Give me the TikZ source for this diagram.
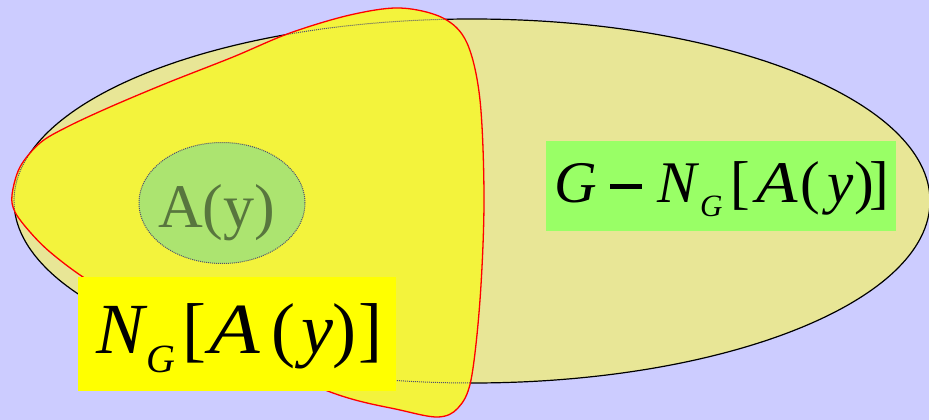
\documentclass[tikz,border=0pt]{standalone}
\usepackage{fontspec}
\usepackage{graphicx}
\setmainfont{Liberation Serif}
\usetikzlibrary{shapes.geometric}
\definecolor{bg}{RGB}{204,204,255}
\definecolor{ellfill}{RGB}{232,230,150}
\definecolor{blobfill}{RGB}{243,243,60}
\definecolor{afill}{RGB}{172,228,112}
\definecolor{atext}{RGB}{88,118,62}
\definecolor{aline}{RGB}{80,80,110}
\definecolor{gbox}{RGB}{153,255,102}
\definecolor{ybox}{RGB}{255,255,0}
\tikzset{
  bigset/.style={ellipse, draw=black, line width=1.2pt, fill=ellfill, inner sep=0pt},
  smallset/.style={ellipse, draw=aline, densely dotted, line width=1pt, fill=afill, inner sep=0pt},
  labelbox/.style={rectangle, inner sep=0pt, draw=none},
  mathtext/.style={anchor=base west, inner sep=0pt, text=black},
}
\newcommand{\gl}[2]{\makebox[#1pt][l]{#2}}
\newcommand{\wideA}{\scalebox{1.15}[1]{\textit{A}}}
\def\blobpath{plot[smooth cycle, tension=0.55] coordinates {
 (400,8) (443,18) (467,43) (480,100) (484,200) (480,300) (471,380) (458,408) (438,417)
 (400,410) (333,393) (220,345) (130,305) (83,277) (50,252) (30,232) (15,212) (12,195)
 (20,167) (40,143) (67,127) (110,107) (167,83) (233,57) (290,33) (350,15)}}
\begin{document}
\begin{tikzpicture}[x=1pt,y=-1pt]
\fill[bg] (0,0) rectangle (929,420);
\useasboundingbox (0,0) rectangle (929,420);
% big set G
\node[bigset, minimum width=916pt, minimum height=364pt] (G) at (472,201) {};
% neighbourhood blob
\fill[blobfill] \blobpath;
\begin{scope}
  \clip \blobpath;
  \draw[aline, densely dotted, line width=1pt] (G.center) ellipse [x radius=458pt, y radius=182pt];
\end{scope}
\draw[red, line width=1.3pt] \blobpath;
% A(y)
\node[smallset, minimum width=166pt, minimum height=121pt] (A) at (222,203) {};
\node[anchor=base west, inner sep=0pt, text=atext, font=\fontsize{62}{64}\selectfont] (At) at (158,227) {A(y)};
% G - N_G[A(y)]
\node[labelbox, fill=gbox, minimum width=350pt, minimum height=90pt] (gb) at (721,186) {};
\node[mathtext, font=\fontsize{59}{62}\selectfont] (gt) at (554,202)
 {\gl{56}{\textit{G}}\gl{47}{\rule[13.5pt]{32pt}{4.5pt}}\gl{43}{\textit{N}}\gl{30}{\raisebox{-14pt}{\fontsize{31}{33}\selectfont\textit{G}}}\gl{26}{[}\gl{44}{\wideA}\gl{27}{(}\gl{27}{\textit{y}}\gl{15}{)}]};
% N_G[A(y)]
\node[labelbox, fill=ybox, minimum width=318pt, minimum height=114pt] (yb) at (237,334) {};
\node[mathtext, font=\fontsize{72}{76}\selectfont] (yt) at (96,353)
 {\gl{50}{\textit{N}}\gl{36}{\raisebox{-19pt}{\fontsize{40}{42}\selectfont\textit{G}}}\gl{27}{[}\gl{62}{\wideA}\gl{30}{(}\gl{31}{\textit{y}}\gl{26}{)}]};
\end{tikzpicture}
\end{document}
